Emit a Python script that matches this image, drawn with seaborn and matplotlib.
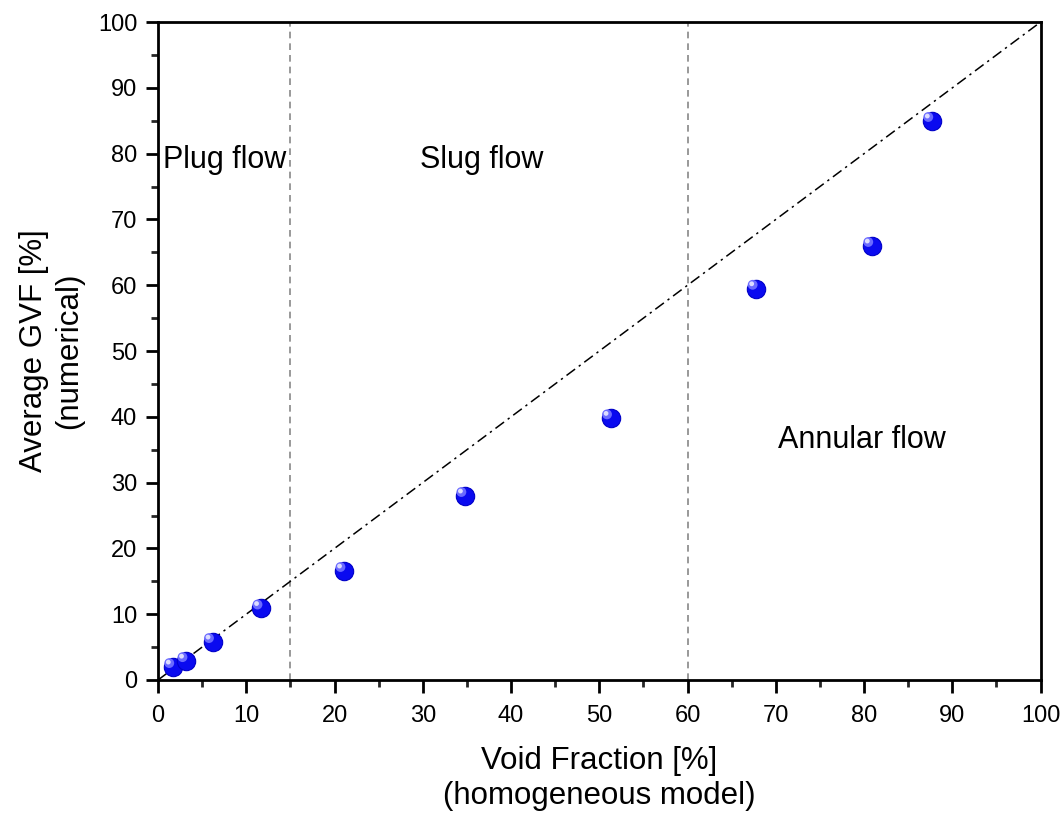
import matplotlib
matplotlib.use("Agg")
import matplotlib.pyplot as plt
import matplotlib.transforms as mtransforms
import seaborn as sns
import numpy as np
import pandas as pd

void_fraction = [1.7, 3.2, 6.2, 11.7, 21.1, 34.8, 51.3, 67.8, 80.9, 87.7]
avg_gvf = [2.0, 2.9, 5.8, 10.9, 16.6, 28.0, 39.8, 59.5, 66.0, 85.0]
regime_bounds = [15, 60]
regime_labels = ["Plug flow", "Slug flow", "Annular flow"]
regime_label_x = [0.6, 29.7, 70.2]
regime_label_y = [79.0, 79.0, 36.5]
ticks = list(range(0, 101, 10))

sns.set_theme(style="ticks")
plt.rcParams['font.family'] = ['Liberation Sans', 'DejaVu Sans']
plt.rcParams['text.color'] = 'black'
plt.rcParams['axes.labelcolor'] = 'black'

df = pd.DataFrame({"x": void_fraction, "y": avg_gvf})

fig = plt.figure(figsize=(10.64, 8.17), dpi=100)
ax = fig.add_axes([0.1485, 0.1677, 0.978 - 0.1485, 0.973 - 0.1677])

ax.plot([0, 100], [0, 100], color="black", lw=1.1, ls=(0, (7, 3, 1.5, 3)), zorder=2)
for b in regime_bounds:
    ax.axvline(b, color="#888888", lw=1.2, ls=(0, (4, 3)), zorder=1)

sns.scatterplot(data=df, x="x", y="y", ax=ax, s=175, color="#0a0af0",
                edgecolor="#0000c8", linewidth=0.8, zorder=3, legend=False)
# sphere shading highlights
off = mtransforms.offset_copy(ax.transData, fig=fig, x=-2.7, y=2.7, units="points")
ax.scatter(void_fraction, avg_gvf, s=50, color="#6a6aff", edgecolor="none", transform=off, zorder=4)
off2 = mtransforms.offset_copy(ax.transData, fig=fig, x=-3.4, y=3.4, units="points")
ax.scatter(void_fraction, avg_gvf, s=12, color="#dcdcff", edgecolor="none", transform=off2, zorder=5)

for lab, lx, ly in zip(regime_labels, regime_label_x, regime_label_y):
    ax.text(lx, ly, lab, fontsize=22, color="black", ha="left", va="center")

ax.set_xlim(0, 100)
ax.set_ylim(0, 100)
ax.set_xticks(ticks)
ax.set_yticks(ticks)
ax.set_xticks(np.arange(5, 100, 10), minor=True)
ax.set_yticks(np.arange(5, 100, 10), minor=True)
ax.tick_params(axis="both", which="major", direction="out", length=9, width=2,
               labelsize=17, colors="black", top=False, right=False)
ax.tick_params(axis="x", which="major", pad=9)
ax.tick_params(axis="y", which="major", pad=6)
ax.tick_params(axis="both", which="minor", direction="out", length=5, width=2,
               top=False, right=False)
for s in ax.spines.values():
    s.set_visible(True)
    s.set_linewidth(2)
    s.set_color("black")

ax.set_xlabel("Void Fraction [%]\n(homogeneous model)", fontsize=22.5, labelpad=14, color="black")
ax.set_ylabel("Average GVF [%]\n(numerical)", fontsize=22.5, labelpad=10, color="black")

fig.savefig("out.png", dpi=100, facecolor="white")
